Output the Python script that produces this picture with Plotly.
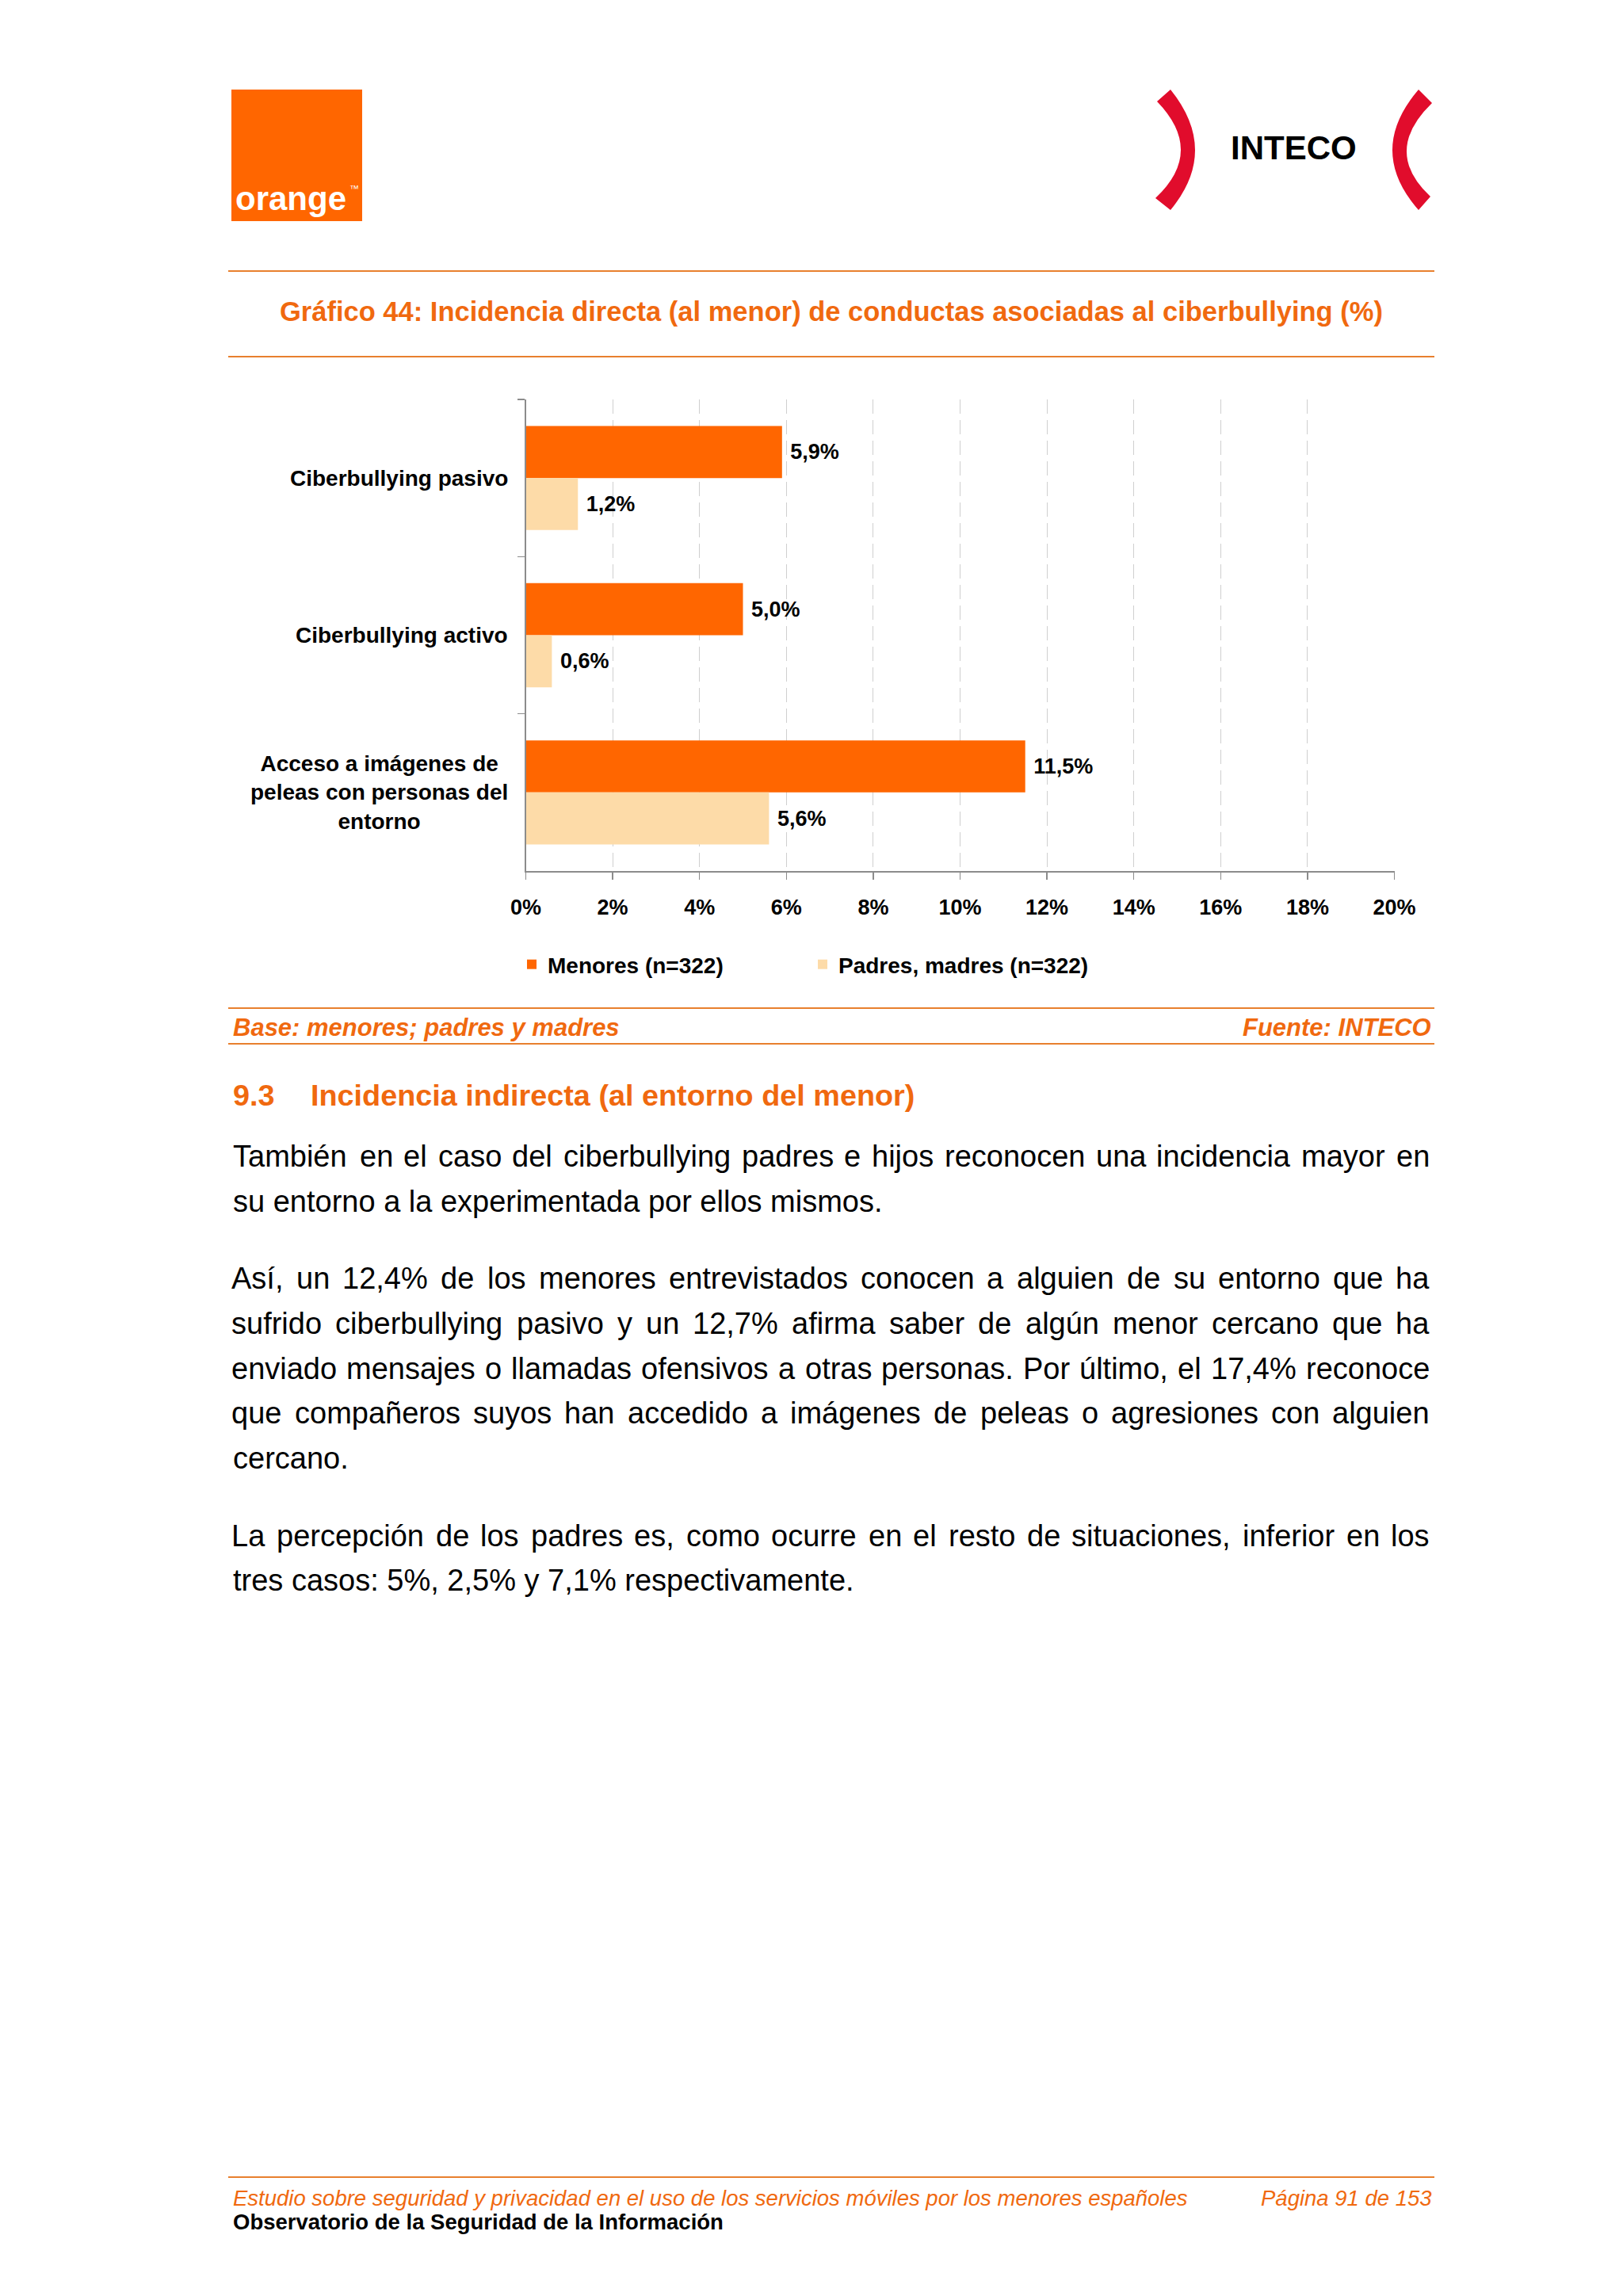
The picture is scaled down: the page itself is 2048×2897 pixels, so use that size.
import plotly.graph_objects as go

# ---------------- data ----------------
categories = [
    "Ciberbullying pasivo",
    "Ciberbullying activo",
    "Acceso a imágenes de peleas con personas del entorno",
]
category_labels = [
    "Ciberbullying pasivo",
    "Ciberbullying activo",
    "Acceso a imágenes de<br>peleas con personas del<br>entorno",
]
menores = [5.9, 5.0, 11.5]
padres = [1.2, 0.6, 5.6]
series_names = ["Menores (n=322)", "Padres, madres (n=322)"]
x_tick_values = [0, 2, 4, 6, 8, 10, 12, 14, 16, 18, 20]
x_tick_labels = ["0%", "2%", "4%", "6%", "8%", "10%", "12%", "14%", "16%", "18%", "20%"]

chart_title = "Gráfico 44: Incidencia directa (al menor) de conductas asociadas al ciberbullying (%)"
base_text = "Base: menores; padres y madres"
source_text = "Fuente: INTECO"
section_title_num = "9.3"
section_title = "Incidencia indirecta (al entorno del menor)"
paragraphs = [
    [
        ("También en el caso del ciberbullying padres e hijos reconocen una incidencia mayor en", True),
        ("su entorno a la experimentada por ellos mismos.", False),
    ],
    [
        ("Así, un 12,4% de los menores entrevistados conocen a alguien de su entorno que ha", True),
        ("sufrido ciberbullying pasivo y un 12,7% afirma saber de algún menor cercano que ha", True),
        ("enviado mensajes o llamadas ofensivos a otras personas. Por último, el 17,4% reconoce", True),
        ("que compañeros suyos han accedido a imágenes de peleas o agresiones con alguien", True),
        ("cercano.", False),
    ],
    [
        ("La percepción de los padres es, como ocurre en el resto de situaciones, inferior en los", True),
        ("tres casos: 5%, 2,5% y 7,1% respectivamente.", False),
    ],
]
footer_left = "Estudio sobre seguridad y privacidad en el uso de los servicios móviles por los menores españoles"
footer_right = "Página 91 de 153"
footer_bold = "Observatorio de la Seguridad de la Información"

# ---------------- page geometry ----------------
# The page body keeps its default 8px margin, so the figure is made 16px
# smaller than the window and every page coordinate is shifted by 8px.
PAGE_W, PAGE_H = 2048, 2897
OFF = 8
W, H = PAGE_W - 2 * OFF, PAGE_H - 2 * OFF
FONT = "Arial, Liberation Sans, Helvetica, sans-serif"
ORANGE = "#FF6600"
PEACH = "#FDDBA8"
TXT_ORANGE = "#F0690F"
RULE = "#E8802E"
GRID = "#CFCFCF"
AXIS = "#8C8C8C"


def fx(x):
    return (x - OFF) / W


def fy(y):
    return 1 - (y - OFF) / H


# Arial metrics (1/1000 em)
AW = {' ': 278, '%': 889, '(': 333, ')': 333, ',': 278, '.': 278, ':': 278, ';': 278, '-': 333, '=': 584}
for c in "0123456789":
    AW[c] = 556
for c, w in zip("ABCDEFGHIJKLMNOPQRSTUVWXYZ",
                [667, 667, 722, 722, 667, 611, 778, 722, 278, 500, 667, 556, 833, 722, 778, 667, 778, 722, 667, 611, 722, 667, 944, 667, 667, 611]):
    AW[c] = w
for c, w in zip("abcdefghijklmnopqrstuvwxyz",
                [556, 556, 500, 556, 556, 278, 556, 556, 222, 222, 500, 222, 833, 556, 556, 556, 556, 333, 500, 278, 556, 500, 722, 500, 500, 500]):
    AW[c] = w
AW.update({'á': 556, 'é': 556, 'í': 278, 'ó': 556, 'ú': 556, 'ñ': 556})


def twidth(s, size):
    return sum(AW.get(c, 556) for c in s) * size / 1000.0


fig = go.Figure()

for vals, name, col in ((menores, series_names[0], ORANGE), (padres, series_names[1], PEACH)):
    fig.add_trace(go.Bar(
        y=categories, x=vals, orientation="h", name=name,
        marker=dict(color=col, line=dict(width=0)),
        texttemplate="\u00a0%{x:.1f}%", textposition="outside", constraintext="none",
        textfont=dict(family=FONT, size=27, color="black", weight="bold"),
        cliponaxis=False, hoverinfo="skip",
    ))

fig.update_layout(
    width=W, height=H,
    margin=dict(l=0, r=0, t=0, b=0, pad=0, autoexpand=False),
    paper_bgcolor="white", plot_bgcolor="white",
    barmode="group", bargap=0.338, bargroupgap=0,
    separators=",.",
    showlegend=True,
    legend=dict(
        orientation="h", x=fx(651), xanchor="left", y=fy(1217), yanchor="middle",
        font=dict(family=FONT, size=28, color="black", weight="bold"),
        entrywidth=322, entrywidthmode="pixels", bgcolor="rgba(0,0,0,0)",
        traceorder="normal", itemclick=False, itemdoubleclick=False,
    ),
    xaxis=dict(
        domain=[fx(663.5), fx(1759.5)], range=[0, 20],
        tickmode="array", tickvals=x_tick_values, ticktext=x_tick_labels,
        showgrid=True, gridcolor=GRID, gridwidth=1, griddash="18px,8px",
        showline=True, linecolor=AXIS, linewidth=1.5,
        ticks="outside", ticklen=9, tickcolor=AXIS, tickwidth=1.5,
        tickfont=dict(family=FONT, size=27, color="black", weight="bold"),
        ticklabelstandoff=12, zeroline=False, fixedrange=True, automargin=False,
    ),
    yaxis=dict(
        domain=[fy(1099), fy(504)], type="category",
        categoryorder="array", categoryarray=categories, range=[2.5, -0.5],
        showline=True, linecolor=AXIS, linewidth=1.5,
        ticks="outside", tickson="boundaries", ticklen=9, tickcolor=AXIS, tickwidth=1.5,
        showticklabels=False, showgrid=False, zeroline=False, fixedrange=True, automargin=False,
    ),
)

shapes = []
annotations = []


def hline(y, x0=288, x1=1810, color=RULE, width=2):
    shapes.append(dict(type="line", xref="paper", yref="paper", x0=fx(x0), x1=fx(x1), y0=fy(y), y1=fy(y),
                       line=dict(color=color, width=width)))


def text(x, y, s, size, color="black", weight="normal", style="normal", xanchor="left", align="left", yref="paper"):
    annotations.append(dict(
        x=fx(x), y=(fy(y) if yref == "paper" else y), xref="paper", yref=yref, text=s, showarrow=False,
        xanchor=xanchor, yanchor="middle", align=align,
        font=dict(family=FONT, size=size, color=color, weight=weight, style=style),
    ))


# category labels (centered multi-line, left of the axis)
for cat, lab in zip(categories, category_labels):
    text(643, cat, lab, 28, weight="bold", xanchor="right", align="center", yref="y")

# header: orange logo
shapes.append(dict(type="rect", xref="paper", yref="paper", x0=fx(292), x1=fx(457), y0=fy(279), y1=fy(113),
                   fillcolor=ORANGE, line=dict(width=0), layer="below"))
text(295, 251, "orange", 42, color="white", weight="bold")
text(439, 238, "™", 12, color="white")

# header: INTECO logo
RED = "#E10C2C"


def P(x, y):
    return f"{fx(x):.6f},{fy(y):.6f}"


left_br = f"M {P(1477,113)} Q {P(1539,190)} {P(1477,265)} L {P(1458,250)} Q {P(1521,191)} {P(1460,128)} Z"
right_br = f"M {P(1790,113)} Q {P(1724,190)} {P(1790,265)} L {P(1805,248)} Q {P(1744,191)} {P(1807,130)} Z"
for pth in (left_br, right_br):
    shapes.append(dict(type="path", xref="paper", yref="paper", path=pth, fillcolor=RED, line=dict(width=0)))
text(1632, 186, "INTECO", 42, weight="bold", xanchor="center", align="center")

# chart frame rules & title
hline(342)
text(1049, 393, chart_title, 34.5, color=TXT_ORANGE, weight="bold", xanchor="center", align="center")
hline(450)
hline(1272)
text(292, 1296, base_text, 31, color=TXT_ORANGE, weight="bold", style="italic")
text(1808, 1296, source_text, 31, color=TXT_ORANGE, weight="bold", style="italic", xanchor="right", align="right")
hline(1317)

# section heading
text(292, 1382, section_title_num, 37.8, color=TXT_ORANGE, weight="bold")
text(390, 1382, section_title, 37.8, color=TXT_ORANGE, weight="bold")

# body text, justified (each word centred on its computed slot)
LEFT, RIGHT, BODY = 292, 1804, 38
line_y = [[1459, 1516], [1613, 1670, 1727, 1783, 1840], [1938, 1994]]
for para, ys in zip(paragraphs, line_y):
    for (line, justify), y in zip(para, ys):
        if not justify:
            text(LEFT, y, line, BODY)
            continue
        words = line.split(" ")
        widths = [twidth(w, BODY) for w in words]
        gap = (RIGHT - LEFT - sum(widths)) / (len(words) - 1)
        x = LEFT
        for w, wd in zip(words, widths):
            text(x + wd / 2, y, w, BODY, xanchor="center", align="center")
            x += wd + gap

# footer
hline(2747)
text(292, 2773, footer_left, 27.5, color=TXT_ORANGE, style="italic")
text(1809, 2773, footer_right, 27.5, color=TXT_ORANGE, style="italic", xanchor="right", align="right")
text(292, 2803, footer_bold, 27.5, weight="bold")

fig.update_layout(shapes=shapes, annotations=annotations)

fig.write_html("out.html", config={"displayModeBar": False, "staticPlot": True})
